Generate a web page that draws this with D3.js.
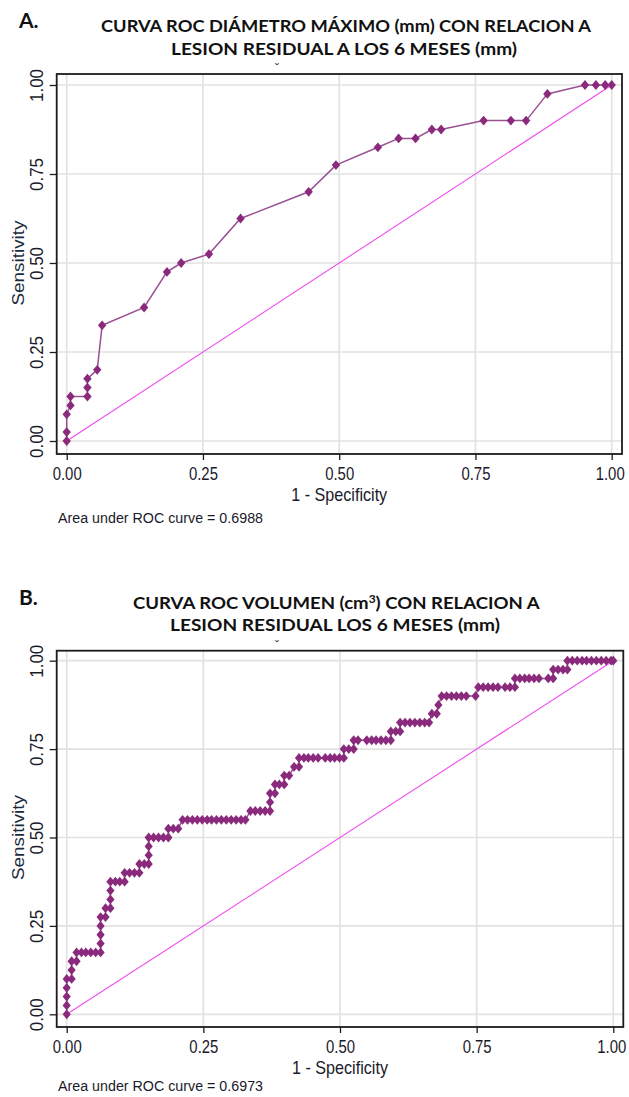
<!DOCTYPE html>
<html><head><meta charset="utf-8">
<script src="https://cdn.jsdelivr.net/npm/d3@7"></script>
<style>body{margin:0;background:#fff}svg{display:block}</style>
</head><body>
<script>
// ---- data ----
const xTickValues = [0, 0.25, 0.5, 0.75, 1];
const yTickValues = [0, 0.25, 0.5, 0.75, 1];

const titleA = ["CURVA ROC DIÁMETRO MÁXIMO (mm) CON RELACION A", "LESION RESIDUAL A LOS 6 MESES  (mm)"];
const titleB1 = "CURVA ROC  VOLUMEN (cm";
const titleB1sup = "3";
const titleB1end = ") CON RELACION A";
const titleB2 = "LESION RESIDUAL LOS 6 MESES  (mm)";
const aucA = "Area under ROC curve = 0.6988";
const aucB = "Area under ROC curve = 0.6973";

const A_fpr = [0, 0, 0, 0.007, 0.007, 0.038, 0.038, 0.038, 0.056, 0.065, 0.142, 0.184, 0.21, 0.261, 0.319, 0.444, 0.494, 0.571, 0.609, 0.640, 0.670, 0.687, 0.765, 0.815, 0.843, 0.882, 0.951, 0.971, 0.988, 1.0];
const A_sens = [0, 0.025, 0.075, 0.1, 0.125, 0.125, 0.15, 0.175, 0.2, 0.325, 0.375, 0.475, 0.5, 0.525, 0.625, 0.7, 0.775, 0.825, 0.85, 0.85, 0.875, 0.875, 0.9, 0.9, 0.9, 0.975, 1, 1, 1, 1];

const B_fpr = [
 0, 0, 0, 0, 0, 0.009, 0.009, 0.009, 0.018,
 0.018, 0.027, 0.035, 0.044, 0.053, 0.062,
 0.062, 0.062, 0.062, 0.062, 0.071, 0.071, 0.080,
 0.080, 0.080, 0.080, 0.089, 0.097, 0.106,
 0.106, 0.115, 0.124, 0.133,
 0.133, 0.142, 0.150, 0.150, 0.150,
 0.150, 0.159, 0.168, 0.177, 0.186,
 0.186, 0.195, 0.204,
 0.212, 0.221, 0.230, 0.239, 0.248, 0.257, 0.265, 0.274, 0.283, 0.292, 0.301, 0.310, 0.319, 0.327,
 0.336, 0.345, 0.354, 0.363, 0.372,
 0.372, 0.372, 0.381, 0.381, 0.389, 0.398,
 0.398, 0.407, 0.416, 0.425,
 0.425, 0.434, 0.442, 0.451, 0.460, 0.473, 0.482, 0.490, 0.499, 0.507,
 0.507, 0.516, 0.525,
 0.525, 0.533, 0.549, 0.558, 0.566, 0.575, 0.584, 0.593,
 0.593, 0.602, 0.610,
 0.610, 0.619, 0.628, 0.637, 0.646, 0.655, 0.663,
 0.668, 0.677, 0.680,
 0.686, 0.695, 0.704, 0.713, 0.722, 0.731, 0.748,
 0.753, 0.762, 0.771, 0.780, 0.789, 0.802, 0.811, 0.820,
 0.820, 0.829, 0.838, 0.846, 0.855, 0.864, 0.881, 0.890,
 0.890, 0.899, 0.908, 0.916,
 0.916, 0.925, 0.934, 0.943, 0.951, 0.960, 0.969, 0.978, 0.987, 0.996, 1.0
];
const B_sens = [
 0, 0.025, 0.05, 0.075, 0.1, 0.1, 0.125, 0.15, 0.15,
 0.175, 0.175, 0.175, 0.175, 0.175, 0.175,
 0.2, 0.225, 0.25, 0.275, 0.275, 0.3, 0.3,
 0.325, 0.35, 0.375, 0.375, 0.375, 0.375,
 0.4, 0.4, 0.4, 0.4,
 0.425, 0.425, 0.425, 0.45, 0.475,
 0.5, 0.5, 0.5, 0.5, 0.5,
 0.525, 0.525, 0.525,
 0.55, 0.55, 0.55, 0.55, 0.55, 0.55, 0.55, 0.55, 0.55, 0.55, 0.55, 0.55, 0.55, 0.55,
 0.575, 0.575, 0.575, 0.575, 0.575,
 0.6, 0.625, 0.625, 0.65, 0.65, 0.65,
 0.675, 0.675, 0.7, 0.7,
 0.725, 0.725, 0.725, 0.725, 0.725, 0.725, 0.725, 0.725, 0.725, 0.725,
 0.75, 0.75, 0.75,
 0.775, 0.775, 0.775, 0.775, 0.775, 0.775, 0.775, 0.775,
 0.8, 0.8, 0.8,
 0.825, 0.825, 0.825, 0.825, 0.825, 0.825, 0.825,
 0.85, 0.85, 0.875,
 0.9, 0.9, 0.9, 0.9, 0.9, 0.9, 0.9,
 0.925, 0.925, 0.925, 0.925, 0.925, 0.925, 0.925, 0.925,
 0.95, 0.95, 0.95, 0.95, 0.95, 0.95, 0.95, 0.95,
 0.975, 0.975, 0.975, 0.975,
 1, 1, 1, 1, 1, 1, 1, 1, 1, 1, 1
];

// ---- drawing ----
const W = 629, H = 1097;
const svg = d3.select("body").append("svg").attr("width", W).attr("height", H);
svg.append("rect").attr("width", W).attr("height", H).attr("fill", "#fff");

const tickFont = "'Liberation Sans Narrow','Arial Narrow','Liberation Sans',Arial,sans-serif";
const titleFont = "Lato,'Open Sans',sans-serif";
const fmt = d3.format(".2f");

function panel(cfg, fpr, sens, auc, hw, hh) {
  const g = svg.append("g");
  const x = d3.scaleLinear().domain([0, 1]).range([cfg.xr0, cfg.xr1]);
  const y = d3.scaleLinear().domain([0, 1]).range([cfg.yr0, cfg.yr1]);

  // grid
  g.append("g").selectAll("line").data(xTickValues).join("line")
    .attr("x1", d => x(d)).attr("x2", d => x(d)).attr("y1", cfg.top).attr("y2", cfg.bottom)
    .attr("stroke", "#e2e2e2").attr("stroke-width", 1.7);
  g.append("g").selectAll("line").data(yTickValues).join("line")
    .attr("y1", d => y(d)).attr("y2", d => y(d)).attr("x1", cfg.left).attr("x2", cfg.right)
    .attr("stroke", "#e2e2e2").attr("stroke-width", 1.7);

  // reference line
  g.append("line").attr("x1", x(0)).attr("y1", y(0)).attr("x2", x(1)).attr("y2", y(1))
    .attr("stroke", "#f04cf0").attr("stroke-width", 1.1);

  // ROC line
  const pts = fpr.map((v, i) => [v, sens[i]]);
  g.append("path").datum(pts)
    .attr("d", d3.line().x(d => x(d[0])).y(d => y(d[1])))
    .attr("fill", "none").attr("stroke", "#9a4f93").attr("stroke-width", 1.5);
  g.append("g").selectAll("path").data(pts).join("path")
    .attr("transform", d => `translate(${x(d[0])},${y(d[1])})`)
    .attr("d", `M0,${-hh}L${hw},0L0,${hh}L${-hw},0Z`)
    .attr("fill", "#8a2a7c");

  // frame
  g.append("rect").attr("x", cfg.left).attr("y", cfg.top)
    .attr("width", cfg.right - cfg.left).attr("height", cfg.bottom - cfg.top)
    .attr("fill", "none").attr("stroke", "#1c1c1c").attr("stroke-width", 1.8);

  // x axis
  const xa = g.append("g").attr("transform", `translate(0,${cfg.bottom})`)
    .call(d3.axisBottom(x).tickValues(xTickValues).tickFormat(fmt).tickSize(6).tickPadding(7));
  xa.select(".domain").remove();
  xa.selectAll("line").attr("stroke", "#1c1c1c").attr("stroke-width", 1.3);
  xa.selectAll("text").attr("font-family", tickFont).attr("font-size", 18).attr("fill", "#1a1a2a")
    .attr("dy", "0.74em").attr("textLength", 29).attr("lengthAdjust", "spacingAndGlyphs")
    .attr("x", d => d === 1 ? -2 : 0);

  // y axis
  const ya = g.append("g").attr("transform", `translate(${cfg.left},0)`)
    .call(d3.axisLeft(y).tickValues(yTickValues).tickFormat(fmt).tickSize(7).tickPadding(6));
  ya.select(".domain").remove();
  ya.selectAll("line").attr("stroke", "#1c1c1c").attr("stroke-width", 1.3);
  ya.selectAll("text").attr("font-family", tickFont).attr("font-size", 19).attr("fill", "#1a1a2a")
    .attr("text-anchor", "middle").attr("x", null).attr("dy", null)
    .attr("transform", "translate(-20,0) rotate(-90)")
    .attr("y", 6.5)
    .attr("textLength", 33).attr("lengthAdjust", "spacingAndGlyphs");

  // axis titles
  g.append("text").attr("x", x(0.5)).attr("y", cfg.bottom + 47)
    .attr("text-anchor", "middle").attr("font-family", tickFont).attr("font-size", 19)
    .attr("fill", "#1a1a2a").attr("textLength", 96).attr("lengthAdjust", "spacingAndGlyphs")
    .text("1 - Specificity");
  g.append("text").attr("transform", `translate(24,${y(0.5)}) rotate(-90)`)
    .attr("text-anchor", "middle").attr("font-family", tickFont).attr("font-size", 17)
    .attr("fill", "#1a2a3a").attr("textLength", 85).attr("lengthAdjust", "spacingAndGlyphs")
    .text("Sensitivity");
  g.append("text").attr("x", 58).attr("y", cfg.bottom + cfg.aucOff)
    .attr("font-family", tickFont).attr("font-size", 14)
    .attr("fill", "#1a1a2a").attr("textLength", 205).attr("lengthAdjust", "spacingAndGlyphs")
    .text(auc);
  // small stray mark on top
  g.append("text").attr("x", 277).attr("y", cfg.top - 1).attr("text-anchor", "middle")
    .attr("font-family", tickFont).attr("font-size", 12).attr("fill", "#333").text("ˇ");
}

panel({left: 56.7, right: 622, top: 74, bottom: 454, xr0: 66.7, xr1: 611.7, yr0: 441, yr1: 85, aucOff: 69},
      A_fpr, A_sens, aucA, 4.2, 4.9);
panel({left: 56.7, right: 623.3, top: 650.7, bottom: 1027, xr0: 66.7, xr1: 613.3, yr0: 1014.3, yr1: 660.7, aucOff: 64},
      B_fpr, B_sens, aucB, 4.1, 4.9);

// titles
function bold(x, y, txt, size, len, anchor) {
  const t = svg.append("text").attr("x", x).attr("y", y).attr("font-family", titleFont)
    .attr("font-weight", "bold").attr("font-size", size).attr("fill", "#111")
    .attr("text-anchor", anchor || "start").text(txt);
  if (len) t.attr("textLength", len).attr("lengthAdjust", "spacingAndGlyphs");
  return t;
}
bold(19, 28, "A.", 21, null);
bold(346, 32, titleA[0], 17, 490, "middle");
bold(344, 55, titleA[1], 17, 346, "middle");

bold(19, 605, "B.", 21, null);
const tb = svg.append("text").attr("font-family", titleFont)
  .attr("font-weight", "bold").attr("font-size", 17).attr("fill", "#111");
tb.append("tspan").text(titleB1);
tb.append("tspan").attr("dy", -6).attr("font-size", 11).text(titleB1sup);
tb.append("tspan").attr("dy", 6).text(titleB1end);
const bw = tb.node().getBBox().width;
tb.attr("transform", `translate(133,609) scale(${407 / bw},1)`);
bold(335, 631, titleB2, 17, 330, "middle");
</script>
</body></html>
